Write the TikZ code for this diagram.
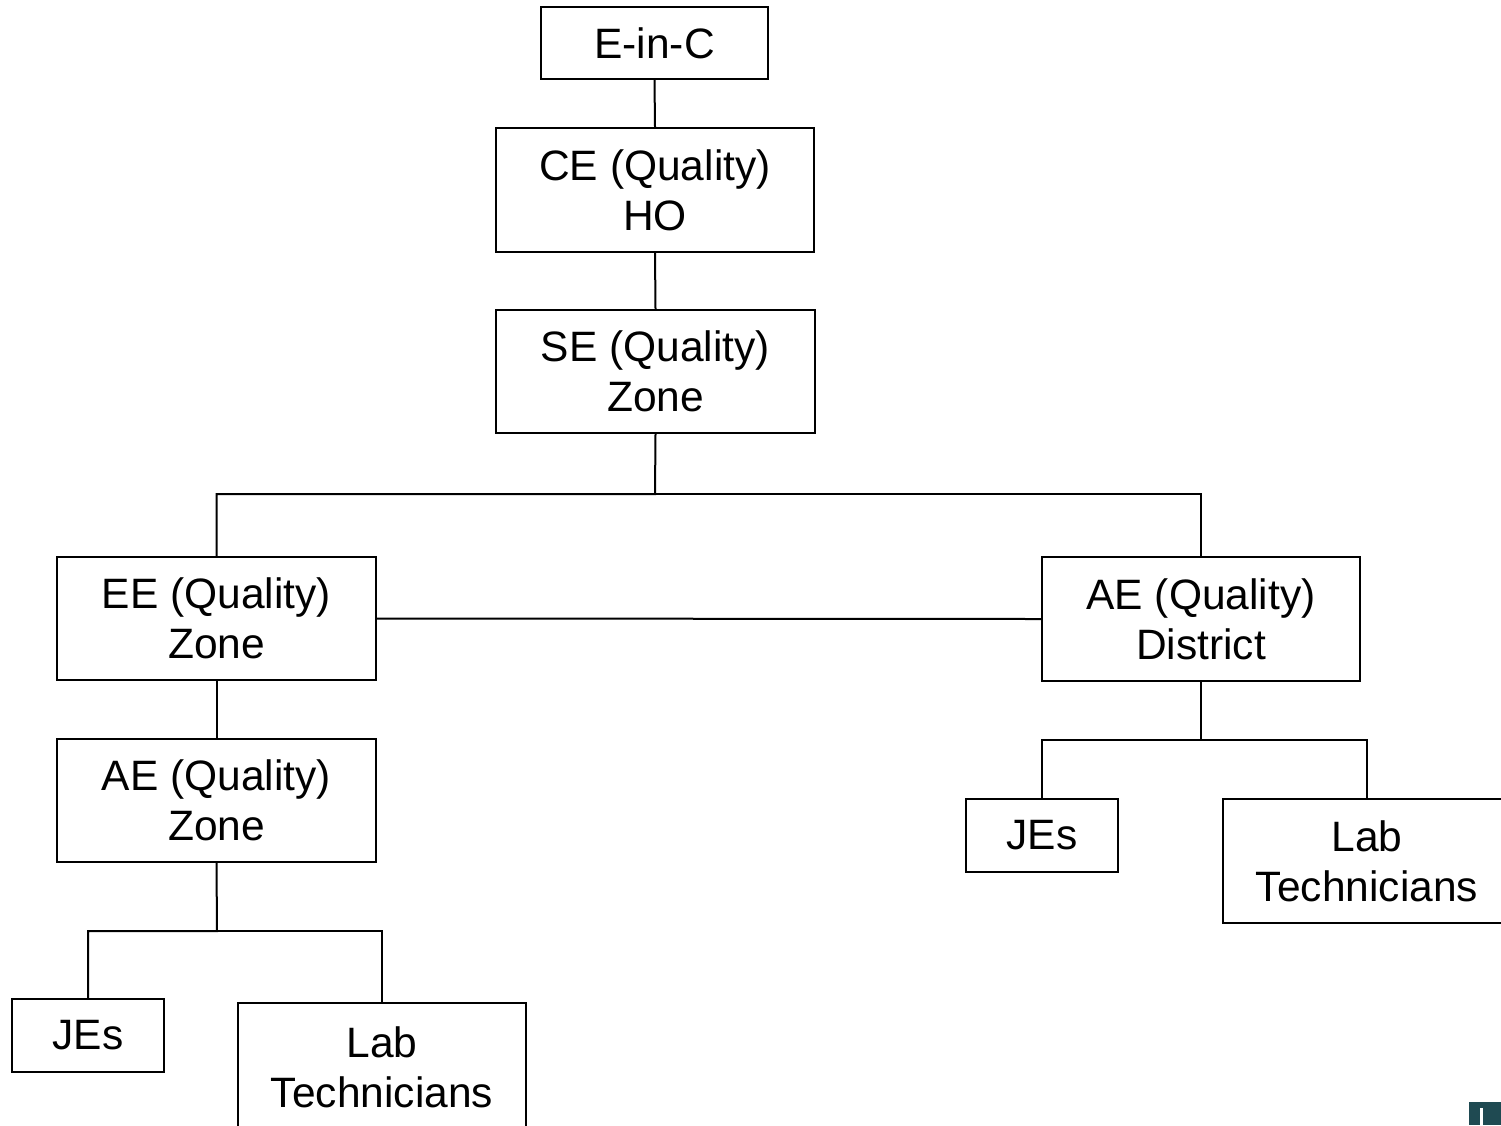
\documentclass[tikz,border=0pt]{standalone}
\usepackage{fontspec}
\setmainfont{Liberation Sans}
\definecolor{icon}{HTML}{1F4A52}
\begin{document}
\begin{tikzpicture}[x=1pt,y=-1pt,
  box/.style={draw=black,line width=2pt,rectangle,inner sep=0pt,align=center,
    font=\fontsize{42.5}{50}\selectfont},
  conn/.style={draw=black,line width=2pt}]
\useasboundingbox (0,0) rectangle (1501,1125);
\clip (0,0) rectangle (1501,1125);
\fill[white] (0,0) rectangle (1501,1125);
% boxes
\node[box,minimum width=227pt,minimum height=72pt] (einc) at (654.5,43) {E-in-C};
\node[box,minimum width=318pt,minimum height=124pt] (ce) at (655,190) {CE (Quality)\\HO};
\node[box,minimum width=319pt,minimum height=123pt] (se) at (655.5,371.5) {SE (Quality)\\Zone};
\node[box,minimum width=319pt,minimum height=123pt] (ee) at (216.5,618.5) {EE (Quality)\\Zone};
\node[box,minimum width=318pt,minimum height=124pt] (aed) at (1201,619) {AE (Quality)\\District};
\node[box,minimum width=319pt,minimum height=123pt] (aez) at (216.5,800.5) {AE (Quality)\\Zone};
\node[box,minimum width=152pt,minimum height=73pt] (jel) at (88,1035.5) {JEs};
\node[box,minimum width=288pt,minimum height=128pt] (labl) at (382,1067) {Lab\\Technicians};
\node[box,minimum width=152pt,minimum height=73pt] (jer) at (1042,835.5) {JEs};
\node[box,minimum width=288pt,minimum height=124pt] (labr) at (1367,861) {Lab\\Technicians};
% junction coordinates
\coordinate (j1) at (655,494);
\coordinate (j2) at (217,931);
\coordinate (j3) at (1201,740);
% connectors
\draw[conn] (einc.south) -- (ce.north);
\draw[conn] (ce.south) -- (se.north);
\draw[conn] (se.south) -- (j1) -| (ee.north);
\draw[conn] (j1) -| (aed.north);
\draw[conn] (ee.east) -- (aed.west);
\draw[conn] (ee.south) -- (aez.north);
\draw[conn] (aez.south) -- (j2) -| (jel.north);
\draw[conn] (j2) -| (labl.north);
\draw[conn] (aed.south) -- (j3) -| (jer.north);
\draw[conn] (j3) -| (labr.north);
% corner icon
\fill[icon] (1469,1102) rectangle (1501,1125);
\fill[white] (1480,1108) rectangle (1483,1125);
\end{tikzpicture}
\end{document}
